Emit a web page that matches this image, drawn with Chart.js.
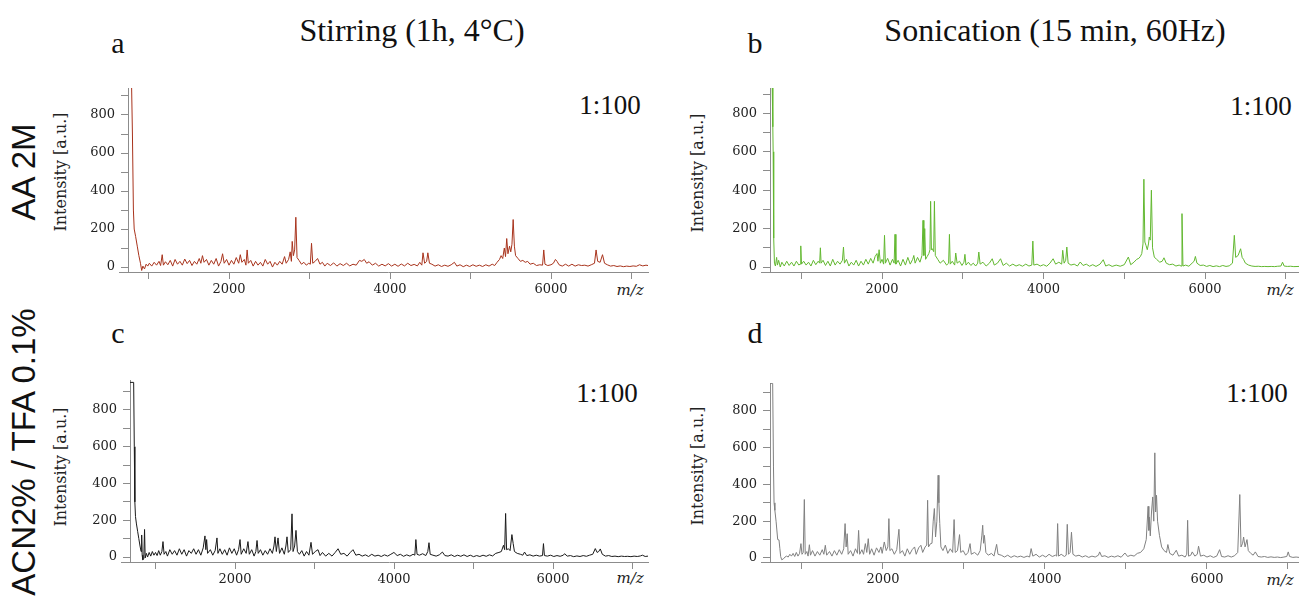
<!DOCTYPE html>
<html>
<head>
<meta charset="utf-8">
<title>MALDI spectra</title>
<script src="https://cdn.jsdelivr.net/npm/chart.js@4.4.1/dist/chart.umd.min.js"></script>
<style>
  html, body { margin: 0; padding: 0; background: #fff; }
  body { width: 1299px; height: 600px; position: relative; overflow: hidden; }
  .panel { position: absolute; }
  .txt { position: absolute; transform: translate(-50%, -50%); white-space: nowrap; color: #111; line-height: 1; }
  .title { font: 32px "Liberation Serif", serif; }
  .letter { font: 30px "Liberation Serif", serif; }
  .ratio { font: 27px "Liberation Serif", serif; }
  .row { font: 33px "Liberation Sans", sans-serif; transform: translate(-50%, -50%) rotate(-90deg); }
  .ylab { font: 16px "DejaVu Serif", serif; transform: translate(-50%, -50%) rotate(-90deg); color: #222; }
  .mz { font: italic 15px "DejaVu Serif", serif; color: #222; }
</style>
</head>
<body>
<div class="txt title" style="left:412px; top:30px;">Stirring (1h, 4°C)</div>
<div class="txt title" style="left:1055px; top:30px;">Sonication (15 min, 60Hz)</div>
<div class="txt letter" style="left:118px; top:43px;">a</div>
<div class="txt letter" style="left:755px; top:43px;">b</div>
<div class="txt letter" style="left:118px; top:333px;">c</div>
<div class="txt letter" style="left:755px; top:333px;">d</div>
<div class="txt row" style="left:24px; top:172px;">AA 2M</div>
<div class="txt row" style="left:24px; top:452px;">ACN2% / TFA 0.1%</div>
<div class="txt ylab" style="left:60px; top:172px;">Intensity [a.u.]</div>
<div class="txt ylab" style="left:697px; top:173px;">Intensity [a.u.]</div>
<div class="txt ylab" style="left:60px; top:467px;">Intensity [a.u.]</div>
<div class="txt ylab" style="left:697px; top:466px;">Intensity [a.u.]</div>
<div class="txt ratio" style="left:610px; top:105px;">1:100</div>
<div class="txt ratio" style="left:1261px; top:106px;">1:100</div>
<div class="txt ratio" style="left:607px; top:393px;">1:100</div>
<div class="txt ratio" style="left:1257px; top:393px;">1:100</div>
<div class="txt mz" style="left:630px; top:290px;">m/z</div>
<div class="txt mz" style="left:1280px; top:290px;">m/z</div>
<div class="txt mz" style="left:630px; top:578px;">m/z</div>
<div class="txt mz" style="left:1280px; top:580px;">m/z</div>

<script>
// axis tick positions (labels only on every second one)
const mzTicks = [1000, 2000, 3000, 4000, 5000, 6000, 7000];
const mzLabelled = [2000, 4000, 6000];
const intensityTicks = [0, 100, 200, 300, 400, 500, 600, 700, 800, 900];
const intensityLabelled = [0, 200, 400, 600, 800];

// a: AA 2M, stirring
const mzA = [
  745, 790, 800, 812, 822, 840, 860, 880, 900, 915,
  930, 950, 970, 990, 1010, 1040, 1070, 1100, 1130, 1150,
  1170, 1185, 1210, 1240, 1270, 1300, 1330, 1360, 1390, 1420,
  1450, 1480, 1510, 1540, 1570, 1600, 1630, 1650, 1670, 1690,
  1720, 1750, 1780, 1810, 1840, 1870, 1900, 1920, 1940, 1970,
  2000, 2030, 2060, 2090, 2120, 2140, 2160, 2190, 2210, 2225,
  2240, 2270, 2300, 2330, 2360, 2390, 2420, 2450, 2480, 2510,
  2540, 2570, 2600, 2630, 2660, 2690, 2710, 2740, 2760, 2775,
  2785, 2800, 2815, 2830, 2845, 2870, 2900, 2930, 2960, 2990,
  3010, 3025, 3040, 3070, 3100, 3130, 3160, 3190, 3220, 3260,
  3300, 3340, 3380, 3420, 3460, 3500, 3540, 3580, 3620, 3650,
  3680, 3710, 3740, 3780, 3820, 3860, 3900, 3940, 3980, 4020,
  4060, 4100, 4140, 4180, 4220, 4260, 4300, 4340, 4370, 4395,
  4410, 4430, 4455, 4470, 4490, 4520, 4560, 4600, 4640, 4680,
  4720, 4760, 4800, 4830, 4870, 4910, 4950, 4990, 5030, 5070,
  5110, 5150, 5190, 5230, 5270, 5300, 5330, 5360, 5380, 5400,
  5420, 5435, 5450, 5465, 5485, 5500, 5515, 5530, 5545, 5560,
  5590, 5620, 5650, 5680, 5710, 5740, 5780, 5820, 5860, 5895,
  5910, 5925, 5960, 6000, 6030, 6055, 6075, 6100, 6140, 6180,
  6220, 6260, 6300, 6340, 6380, 6420, 6460, 6500, 6540, 6560,
  6580, 6610, 6640, 6665, 6700, 6740, 6780, 6820, 6860, 6900,
  6940, 6980, 7020, 7060, 7100, 7140, 7180, 7205
];
const intA = [
  950, 945, 700, 300, 200, 160, 110, 60, 20, -18,
  5, -10, 15, 5, 20, 5, 25, 10, 30, 8,
  65, 10, 28, 12, 35, 5, 40, 15, 30, 10,
  42, 18, 35, 8, 30, 15, 45, 20, 60, 25,
  40, 10, 35, 15, 45, 5, 30, 70, 20, 40,
  10, 35, 15, 50, 20, 65, 25, 40, 10, 90,
  20, 35, 5, 30, 10, 25, 5, 40, 15, 30,
  0, 25, 10, 30, 15, 55, 20, 40, 80, 30,
  135, 60, 90, 262, 50, 35, 15, 25, 10, 20,
  15, 125, 20, 30, 45, 15, 25, 5, 20, 8,
  22, 5, 18, 8, 20, 6, 15, 10, 35, 30,
  40, 20, 28, 10, 20, 5, 15, 6, 18, 5,
  15, 4, 16, 6, 20, 8, 14, 6, 25, 10,
  75, 20, 30, 75, 20, 15, 5, 12, 3, 10,
  4, 12, 25, 5, 12, 2, 10, 3, 12, 4,
  10, 3, 12, 5, 15, 8, 25, 40, 60, 45,
  100, 55, 150, 70, 110, 80, 120, 250, 110, 60,
  45, 30, 35, 25, 30, 15, 20, 8, 12, 10,
  90, 15, 8, 12, 20, 40, 30, 12, 5, 15,
  5, 15, 5, 12, 8, 10, 5, 12, 20, 90,
  30, 25, 65, 20, 12, 5, 8, 3, 6, 2,
  5, 3, 6, 4, 12, 6, 10, 8
];

// b: AA 2M, sonication
const mzB = [
  613, 640, 648, 652, 656, 662, 668, 680, 695, 705,
  720, 740, 760, 790, 820, 850, 880, 910, 940, 970,
  985, 994, 1003, 1030, 1060, 1090, 1120, 1150, 1180, 1210,
  1228, 1237, 1246, 1270, 1300, 1330, 1360, 1390, 1420, 1450,
  1480, 1510, 1523, 1535, 1560, 1590, 1620, 1650, 1680, 1710,
  1740, 1770, 1800, 1830, 1860, 1890, 1915, 1938, 1950, 1964,
  1980, 2000, 2020, 2031, 2042, 2070, 2100, 2130, 2150, 2161,
  2172, 2200, 2230, 2260, 2290, 2320, 2350, 2380, 2394, 2410,
  2440, 2470, 2495, 2508, 2518, 2529, 2540, 2560, 2580, 2594,
  2602, 2612, 2623, 2640, 2649, 2660, 2690, 2720, 2760, 2800,
  2825, 2835, 2845, 2870, 2900, 2913, 2930, 2960, 2990, 3015,
  3027, 3040, 3070, 3100, 3130, 3160, 3185, 3199, 3215, 3250,
  3290, 3330, 3365, 3390, 3430, 3468, 3500, 3540, 3580, 3620,
  3660, 3700, 3740, 3780, 3820, 3855, 3868, 3880, 3920, 3960,
  4000, 4040, 4080, 4119, 4150, 4190, 4225, 4238, 4255, 4275,
  4289, 4305, 4340, 4380, 4420, 4455, 4490, 4530, 4570, 4610,
  4650, 4700, 4740, 4770, 4810, 4850, 4900, 4950, 5000, 5051,
  5080, 5120, 5154, 5180, 5200, 5217, 5232, 5243, 5255, 5269,
  5285, 5300, 5310, 5322, 5336, 5350, 5372, 5400, 5440, 5470,
  5492, 5520, 5560, 5600, 5640, 5680, 5703, 5715, 5727, 5760,
  5800, 5840, 5865, 5881, 5900, 5940, 5980, 6020, 6060, 6100,
  6140, 6180, 6220, 6260, 6300, 6340, 6363, 6380, 6410, 6441,
  6460, 6477, 6500, 6540, 6580, 6620, 6660, 6700, 6740, 6780,
  6820, 6860, 6900, 6940, 6960, 6980, 7020, 7060, 7100, 7164
];
const intB = [
  950, 950, 730, 600, 260, 150, 20, 5, 50, 10,
  35, 0, 25, 5, 30, 8, 25, 5, 30, 10,
  15, 110, 15, 30, 10, 25, 5, 35, 12, 30,
  20, 100, 20, 35, 8, 30, 5, 40, 10, 30,
  15, 35, 104, 20, 40, 5, 25, 10, 35, 5,
  30, 10, 40, 15, 45, 20, 55, 70, 30, 90,
  20, 40, 15, 165, 20, 45, 10, 40, 20, 170,
  15, 35, 5, 40, 10, 50, 15, 40, 60, 20,
  50, 25, 60, 243, 60, 200, 40, 55, 70, 90,
  342, 90, 95, 80, 342, 60, 40, 20, 35, 10,
  20, 170, 15, 30, 10, 73, 20, 30, 8, 25,
  66, 10, 25, 8, 20, 5, 20, 78, 15, 25,
  5, 20, 43, 10, 20, 43, 8, 20, 5, 15,
  5, 12, 4, 15, 5, 10, 135, 10, 15, 5,
  12, 4, 20, 43, 15, 25, 15, 87, 20, 35,
  104, 20, 10, 15, 5, 26, 8, 15, 4, 12,
  3, 15, 38, 5, 12, 3, 10, 4, 12, 52,
  12, 25, 40, 45, 55, 70, 120, 457, 130, 113,
  90, 120, 156, 140, 400, 100, 52, 40, 25, 30,
  48, 20, 12, 15, 5, 10, 5, 278, 5, 10,
  4, 20, 30, 55, 20, 8, 10, 3, 8, 2,
  6, 2, 8, 3, 6, 20, 165, 50, 60, 95,
  50, 40, 20, 10, 5, 3, 4, 2, 3, 2,
  3, 2, 4, 5, 25, 5, 3, 4, 2, 3
];

// c: ACN2% / TFA 0.1%, stirring
const mzC = [
  679, 725, 733, 740, 748, 760, 775, 790, 805, 818,
  826, 832, 840, 852, 862, 870, 885, 900, 920, 940,
  960, 980, 1000, 1020, 1040, 1060, 1080, 1094, 1108, 1130,
  1150, 1180, 1210, 1240, 1270, 1300, 1330, 1360, 1390, 1420,
  1450, 1480, 1510, 1540, 1570, 1600, 1622, 1633, 1643, 1655,
  1690, 1720, 1750, 1773, 1785, 1810, 1840, 1870, 1900, 1930,
  1960, 1990, 2020, 2045, 2063, 2078, 2110, 2140, 2163, 2180,
  2210, 2240, 2262, 2277, 2292, 2320, 2350, 2380, 2410, 2440,
  2470, 2490, 2503, 2520, 2541, 2560, 2590, 2620, 2640, 2654,
  2670, 2700, 2717, 2730, 2750, 2767, 2785, 2810, 2840, 2870,
  2900, 2930, 2956, 2975, 3010, 3044, 3070, 3100, 3140, 3180,
  3220, 3260, 3296, 3330, 3370, 3410, 3450, 3484, 3520, 3560,
  3600, 3640, 3680, 3720, 3760, 3800, 3840, 3880, 3920, 3960,
  3999, 4040, 4080, 4120, 4160, 4200, 4240, 4262, 4275, 4290,
  4320, 4360, 4400, 4425, 4440, 4455, 4490, 4530, 4570, 4609,
  4640, 4680, 4720, 4760, 4800, 4840, 4880, 4920, 4960, 5000,
  5040, 5080, 5120, 5160, 5200, 5240, 5280, 5320, 5350, 5377,
  5392, 5404, 5416, 5440, 5460, 5483, 5499, 5515, 5550, 5590,
  5620, 5642, 5670, 5710, 5750, 5790, 5830, 5868, 5880, 5892,
  5930, 5970, 6010, 6050, 6090, 6130, 6145, 6180, 6220, 6260,
  6300, 6340, 6380, 6420, 6460, 6500, 6532, 6555, 6575, 6595,
  6620, 6660, 6700, 6740, 6780, 6820, 6860, 6900, 6940, 6980,
  7020, 7060, 7100, 7125, 7160, 7195
];
const intC = [
  950, 950, 600, 300, 220, 180, 140, 100, 60, 30,
  120, 10, -15, -10, 150, -5, 20, 0, 25, 5,
  30, 10, 25, 8, 35, 10, 30, 84, 15, 30,
  5, 40, 15, 35, 10, 45, 15, 40, 5, 35,
  20, 45, 15, 40, 10, 50, 115, 40, 95, 20,
  40, 10, 35, 104, 20, 45, 15, 40, 10, 50,
  20, 45, 10, 40, 95, 15, 45, 20, 84, 15,
  40, 5, 30, 90, 20, 40, 10, 35, 15, 45,
  20, 60, 110, 30, 104, 20, 50, 15, 60, 110,
  25, 40, 235, 30, 60, 145, 30, 15, 35, 5,
  30, 10, 80, 15, 30, 40, 8, 25, 5, 20,
  5, 25, 45, 15, 20, 5, 25, 40, 10, 15,
  5, 12, 3, 15, 5, 10, 3, 12, 5, 15,
  25, 8, 15, 4, 12, 5, 15, 10, 95, 15,
  10, 18, 8, 30, 78, 15, 10, 5, 12, 27,
  8, 5, 12, 3, 10, 4, 12, 3, 10, 2,
  8, 3, 10, 4, 12, 6, 20, 25, 30, 64,
  40, 237, 40, 45, 35, 122, 73, 30, 20, 15,
  10, 27, 8, 12, 5, 10, 5, 8, 73, 8,
  5, 10, 3, 8, 4, 10, 18, 5, 8, 2,
  6, 3, 8, 4, 10, 15, 46, 25, 30, 44,
  15, 5, 8, 3, 5, 2, 5, 3, 4, 2,
  5, 3, 6, 10, 3, 5
];

// d: ACN2% / TFA 0.1%, sonication
const mzD = [
  605, 638, 648, 655, 665, 680, 700, 716, 727, 737,
  750, 770, 790, 810, 830, 850, 870, 890, 910, 930,
  950, 970, 987, 1000, 1015, 1029, 1040, 1060, 1075, 1091,
  1105, 1130, 1160, 1190, 1220, 1250, 1270, 1288, 1305, 1340,
  1370, 1400, 1430, 1460, 1490, 1515, 1532, 1545, 1558, 1570,
  1600, 1630, 1660, 1685, 1699, 1712, 1740, 1760, 1782, 1800,
  1818, 1835, 1860, 1890, 1920, 1950, 1974, 1990, 2016, 2040,
  2060, 2073, 2085, 2110, 2140, 2170, 2197, 2210, 2240, 2270,
  2300, 2330, 2360, 2390, 2410, 2440, 2468, 2490, 2520, 2540,
  2551, 2562, 2587, 2605, 2620, 2634, 2649, 2665, 2681, 2690,
  2701, 2715, 2740, 2770, 2800, 2830, 2860, 2878, 2892, 2920,
  2945, 2960, 2990, 3020, 3050, 3075, 3090, 3130, 3170, 3200,
  3220, 3231, 3242, 3252, 3270, 3300, 3340, 3370, 3403, 3420,
  3460, 3500, 3540, 3580, 3620, 3660, 3700, 3740, 3780, 3810,
  3829, 3850, 3890, 3930, 3970, 4010, 4050, 4090, 4130, 4145,
  4156, 4168, 4200, 4240, 4262, 4275, 4290, 4310, 4327, 4345,
  4380, 4420, 4460, 4500, 4540, 4580, 4620, 4660, 4675, 4700,
  4740, 4780, 4820, 4860, 4900, 4940, 4987, 5020, 5060, 5100,
  5140, 5180, 5220, 5250, 5273, 5282, 5288, 5300, 5315, 5330,
  5343, 5356, 5366, 5377, 5390, 5413, 5440, 5470, 5500, 5517,
  5540, 5580, 5621, 5650, 5690, 5730, 5750, 5761, 5772, 5800,
  5818, 5850, 5880, 5896, 5920, 5960, 6000, 6040, 6080, 6120,
  6156, 6180, 6220, 6260, 6300, 6340, 6380, 6405, 6420, 6440,
  6452, 6470, 6494, 6510, 6540, 6570, 6597, 6630, 6670, 6710,
  6750, 6790, 6830, 6870, 6910, 6950, 6985, 7003, 7020, 7060,
  7100, 7136
];
const intD = [
  950, 950, 500, 300, 259, 200, 100, 98, 50, 7,
  -10, -5, 5, 10, 5, 20, 10, 25, 8, 30,
  10, 25, 78, 20, 30, 318, 20, 35, 10, 72,
  15, 40, 10, 35, 15, 45, 20, 69, 15, 35,
  10, 40, 15, 45, 20, 50, 187, 60, 132, 20,
  40, 10, 50, 25, 150, 20, 45, 20, 78, 30,
  105, 20, 50, 15, 55, 30, 60, 25, 87, 40,
  60, 214, 40, 50, 20, 45, 156, 25, 40, 10,
  50, 20, 45, 60, 20, 55, 69, 30, 60, 70,
  314, 60, 78, 80, 200, 269, 114, 200, 450, 300,
  187, 60, 40, 70, 25, 50, 30, 209, 30, 40,
  127, 30, 40, 15, 30, 78, 20, 30, 15, 40,
  120, 178, 80, 123, 30, 15, 25, 10, 74, 20,
  15, 5, 15, 3, 12, 5, 10, 3, 10, 5,
  51, 10, 20, 5, 15, 5, 20, 8, 15, 10,
  187, 10, 20, 8, 15, 183, 20, 30, 140, 20,
  10, 15, 5, 12, 3, 10, 5, 15, 33, 8,
  12, 3, 10, 5, 12, 4, 27, 8, 15, 10,
  25, 30, 50, 100, 281, 150, 223, 120, 250, 332,
  200, 572, 250, 341, 200, 123, 60, 40, 30, 73,
  25, 15, 42, 10, 15, 5, 20, 205, 10, 15,
  33, 10, 20, 64, 10, 15, 5, 12, 3, 10,
  45, 8, 5, 12, 5, 12, 30, 345, 60, 80,
  114, 60, 100, 40, 25, 15, 33, 8, 5, 8,
  3, 6, 3, 5, 2, 5, 8, 33, 8, 3,
  5, 3
];

const panels = [
  { mz: mzA, intensity: intA, color: '#a8331c', xMin: 745, xMax: 7205, yMin: -26, yMax: 942, box: { l: 128, r: 648, t: 88, b: 272 } },
  { mz: mzB, intensity: intB, color: '#62b830', xMin: 613, xMax: 7164, yMin: -26, yMax: 932, box: { l: 770, r: 1299, t: 88, b: 272 } },
  { mz: mzC, intensity: intC, color: '#1a1a1a', xMin: 679, xMax: 7195, yMin: -27, yMax: 963, box: { l: 130, r: 648, t: 380, b: 562 } },
  { mz: mzD, intensity: intD, color: '#808080', xMin: 605, xMax: 7136, yMin: -22, yMax: 952, box: { l: 770, r: 1299, t: 383, b: 562 } }
];

const axisGrey = '#8c8c8c';
const tickFont = { family: 'DejaVu Serif', size: 13 };

// the m/z axis runs a few pixels left of the intensity axis
const axisStub = {
  id: 'axisStub',
  afterDraw(chart) {
    const { ctx, chartArea } = chart;
    const y = Math.round(chartArea.bottom) + 0.5;
    ctx.save();
    ctx.strokeStyle = axisGrey;
    ctx.lineWidth = 1;
    ctx.beginPath();
    ctx.moveTo(chartArea.left - 9, y);
    ctx.lineTo(chartArea.left, y);
    ctx.stroke();
    ctx.restore();
  }
};

panels.forEach(p => {
  const padL = 80, padT = 24, padB = 40;
  const padR = p.box.r >= 1299 ? 0 : 4;
  const left = p.box.l - padL;
  const top = p.box.t - padT;
  const width = p.box.r - left + padR;
  const height = p.box.b + padB - top;

  const holder = document.createElement('div');
  holder.className = 'panel';
  holder.style.left = left + 'px';
  holder.style.top = top + 'px';
  holder.style.width = width + 'px';
  holder.style.height = height + 'px';
  const canvas = document.createElement('canvas');
  canvas.width = width;
  canvas.height = height;
  holder.appendChild(canvas);
  document.body.appendChild(holder);

  const points = p.mz.map((m, i) => ({ x: m, y: p.intensity[i] }));

  new Chart(canvas, {
    type: 'line',
    data: {
      datasets: [{
        data: points,
        borderColor: p.color,
        borderWidth: 1,
        pointRadius: 0,
        tension: 0,
        fill: false
      }]
    },
    plugins: [axisStub],
    options: {
      responsive: false,
      animation: false,
      devicePixelRatio: 1,
      layout: { padding: { top: padT, right: padR, left: 0, bottom: 0 } },
      plugins: { legend: { display: false }, tooltip: { enabled: false } },
      scales: {
        x: {
          type: 'linear',
          min: p.xMin,
          max: p.xMax,
          afterBuildTicks: s => { s.ticks = mzTicks.map(v => ({ value: v })); },
          afterFit: s => { s.height = padB; },
          grid: { drawOnChartArea: false, drawTicks: true, tickLength: 7, color: axisGrey },
          border: { display: true, color: axisGrey, width: 1 },
          ticks: {
            autoSkip: false,
            maxRotation: 0,
            padding: 3,
            color: '#222',
            font: tickFont,
            callback: v => (mzLabelled.includes(v) ? String(v) : '')
          }
        },
        y: {
          type: 'linear',
          min: p.yMin,
          max: p.yMax,
          afterBuildTicks: s => { s.ticks = intensityTicks.map(v => ({ value: v })); },
          afterFit: s => { s.width = padL; },
          grid: { drawOnChartArea: false, drawTicks: true, tickLength: 7, color: axisGrey },
          border: { display: true, color: axisGrey, width: 1 },
          ticks: {
            autoSkip: false,
            padding: 6,
            color: '#222',
            font: tickFont,
            callback: v => (intensityLabelled.includes(v) ? String(v) : '')
          }
        }
      }
    }
  });
});
</script>
</body>
</html>
